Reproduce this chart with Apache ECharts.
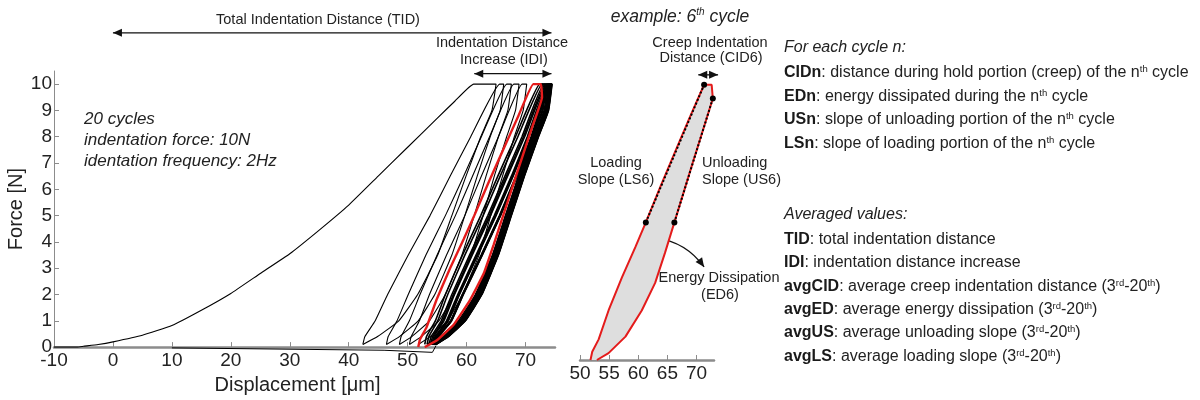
<!DOCTYPE html>
<html><head><meta charset="utf-8">
<script src="https://cdn.jsdelivr.net/npm/echarts@6/dist/echarts.min.js"></script>
<style>html,body{margin:0;padding:0;background:#fff}#c{width:1200px;height:400px}</style>
</head><body><div id="c"></div>
<script>
const F = '"Liberation Sans", Arial, Helvetica, sans-serif';

// ---- tick labels ----
const forceTicks = [0,1,2,3,4,5,6,7,8,9,10];
const dispTicksMain = [-10,0,10,20,30,40,50,60,70];
const dispTicksZoom = [50,55,60,65,70];

// ---- cycle 1: initial loading [displacement, force] ----
const firstLoading = [[-10,0],[-6,0],[-5,0.03],[-2.5,0.1],[0,0.2],[5,0.45],[10,0.82],[15,1.4],[20,2.04],[25,2.8],[30,3.55],[35,4.45],[40,5.4],[45,6.5],[50,7.6],[55,8.7],[58,9.35],[61.2,10]];
// force levels at which the other loading / unloading branches were read
const loadLevels   = [0.1,0.4,1,2,3.5,5,6.5,8,10];
const unloadLevels = [10,9,8,6.5,5,3.5,2,1,0.4,0.1];
const cycle1Unload = [65.0,64.3,62.4,59.9,57.5,55.1,51.7,48.5,44.9,42.4];

// black cycles 2-5 and 7-20: displacement at loadLevels / unloadLevels
const blackCycleNumbers = [2,3,4,5,7,8,9,10,11,12,13,14,15,16,17,18,19,20];
const blackLoadX = [
  [42.4,42.75,44.5,46.6,50.1,53.8,57.2,60.7,65.6],
  [46.4,46.7,48.2,50.1,53.1,56.4,59.5,62.5,66.8],
  [48.6,48.9,50.3,52.1,55.0,58.1,61.0,63.9,68.0],
  [50.3,50.6,52.0,53.7,56.6,59.7,62.5,65.4,69.4],
  [52.9,53.2,54.7,56.4,59.3,62.4,65.3,68.3,72.4],
  [53.3,53.6,55.1,56.8,59.7,62.8,65.7,68.7,72.8],
  [53.6,54.0,55.7,57.5,60.5,63.6,66.5,69.4,73.1],
  [53.85,54.25,55.95,57.75,60.75,63.85,66.75,69.65,73.35],
  [54.05,54.45,56.15,57.95,60.95,64.05,66.95,69.85,73.55],
  [54.2,54.65,56.6,58.5,61.6,64.7,67.6,70.3,73.7],
  [54.32,54.77,56.72,58.62,61.72,64.82,67.72,70.42,73.82],
  [54.42,54.87,56.82,58.72,61.82,64.92,67.82,70.52,73.92],
  [54.5,54.95,56.9,58.8,61.9,65.0,67.9,70.6,74.0],
  [54.57,55.07,57.27,59.27,62.47,65.57,68.37,70.97,74.07],
  [54.63,55.13,57.33,59.33,62.53,65.63,68.43,71.03,74.13],
  [54.68,55.18,57.38,59.38,62.58,65.68,68.48,71.08,74.18],
  [54.72,55.22,57.42,59.42,62.62,65.72,68.52,71.12,74.22],
  [54.76,55.26,57.46,59.46,62.66,65.76,68.56,71.16,74.26]
];
const blackUnloadX = [
  [66.3,65.7,64.0,61.8,59.7,57.5,54.6,51.8,48.6,46.4],
  [67.6,67.0,65.4,63.3,61.3,59.2,56.4,53.7,50.7,48.6],
  [68.9,68.3,66.8,64.7,62.8,60.7,57.9,55.3,52.3,50.3],
  [70.2,69.6,68.1,66.1,64.1,62.1,59.3,56.8,53.8,51.8],
  [73.0,72.5,71.0,68.8,66.6,64.4,61.5,58.6,55.5,53.3],
  [73.3,72.8,71.3,69.1,66.9,64.7,61.8,58.9,55.8,53.6],
  [73.55,72.95,71.25,68.85,66.65,64.45,61.65,58.85,55.95,53.85],
  [73.75,73.15,71.45,69.05,66.85,64.65,61.85,59.05,56.15,54.05],
  [73.9,73.3,71.6,69.2,67.0,64.8,62.0,59.2,56.3,54.2],
  [74.02,73.42,71.72,69.32,67.12,64.92,62.12,59.32,56.42,54.32],
  [74.12,73.52,71.82,69.42,67.22,65.02,62.22,59.42,56.52,54.42],
  [74.2,73.6,71.9,69.5,67.3,65.1,62.3,59.5,56.6,54.5],
  [74.27,73.67,71.97,69.57,67.37,65.17,62.37,59.57,56.67,54.57],
  [74.33,73.73,72.03,69.63,67.43,65.23,62.43,59.63,56.73,54.63],
  [74.38,73.78,72.08,69.68,67.48,65.28,62.48,59.68,56.78,54.68],
  [74.42,73.82,72.12,69.72,67.52,65.32,62.52,59.72,56.82,54.72],
  [74.46,73.86,72.16,69.76,67.56,65.36,62.56,59.76,56.86,54.76],
  [74.5,73.9,72.2,69.8,67.6,65.4,62.6,59.8,56.9,54.8]
];
// 6th cycle (red) full loop
const cycle6 = [[51.8,0],[52.1,0.3],[53.2,0.75],[54.9,1.8],[57.2,3.0],[59.5,4.1],[61.3,5.0],[63.8,6.3],[66.3,7.55],[68.8,8.8],[71.3,10],[72.6,10],[72.8,9.5],[71.1,8.35],[69.4,7.2],[67.8,6.1],[66.2,5.0],[64.6,3.9],[62.9,2.8],[60.6,1.8],[57.8,0.85],[54.9,0.25],[52.9,0]];
const loadingSlope6   = [[61.3,5.0],[71.3,10]];
const unloadingSlope6 = [[72.8,9.5],[66.2,5.0]];
const finalRetract = [[54.8,0.05],[54.2,-0.2],[46,-0.12],[10,-0.03]];

// annotation anchors (data coordinates)
const tidArrow = [[0,11.95],[74.4,11.95]];
const idiArrow = [[61.3,10.4],[74.4,10.4]];
const cidArrow = [[70.3,10.36],[73.7,10.36]];
const edArrow  = [[63.1,4.43],[68.2,4.29],[71.3,3.38]];

function branch(xs, levels){ return xs.map((x,i)=>[x, levels[i]]); }

const series = [];
blackCycleNumbers.forEach((n,i)=>{
  series.push({name:'cycle '+n, type:'line', xAxisIndex:0, yAxisIndex:0, smooth:0.12,
    data: branch(blackLoadX[i], loadLevels).concat(branch(blackUnloadX[i], unloadLevels)),
    symbol:'none', silent:true, lineStyle:{color:'#000', width: n>6 ? 1.6 : 1.1}, z:2});
});
series.push({name:'cycle 1', type:'line', xAxisIndex:0, yAxisIndex:0, smooth:0.12,
  data: firstLoading.concat(branch(cycle1Unload, unloadLevels)),
  symbol:'none', silent:true, lineStyle:{color:'#000', width:1.1}, z:2});
series.push({name:'retract', type:'line', xAxisIndex:0, yAxisIndex:0, data: finalRetract, clip:false,
  symbol:'none', silent:true, lineStyle:{color:'#000', width:1}, z:2});
series.push({name:'cycle 6', type:'line', xAxisIndex:0, yAxisIndex:0, data: cycle6, smooth:0.1,
  symbol:'none', silent:true, lineStyle:{color:'#e41b1b', width:2.4}, z:5});
// right panel
series.push({name:'ED6 area', type:'custom', xAxisIndex:1, yAxisIndex:1, data:[cycle6[0]], clip:false, silent:true, z:1,
  renderItem:(params, api)=>({type:'polygon', shape:{points: cycle6.map(p=>api.coord(p))}, style:{fill:'#dedede', stroke:null}})});
series.push({name:'cycle 6 zoom', type:'line', xAxisIndex:1, yAxisIndex:1, data: cycle6,
  symbol:'none', silent:true, lineStyle:{color:'#e41b1b', width:2}, z:5});
[loadingSlope6, unloadingSlope6].forEach(d=>{
  series.push({type:'line', xAxisIndex:1, yAxisIndex:1, data:d, symbol:'circle', symbolSize:6, showSymbol:true,
    itemStyle:{color:'#000'}, silent:true, lineStyle:{color:'#000', width:2, type:[2,2]}, z:6});
});

const axLine = {show:true, onZero:false, lineStyle:{color:'#8c8c8c', width:2.5}};
const tickStyle = {color:'#8c8c8c', width:1};
const labelStyle = {fontFamily:F, fontSize:19, color:'#222'};

const option = {
  animation:false,
  grid:[{left:54, top:71, width:501, height:289}, {left:580, top:71, width:134, height:289}],
  xAxis:[
    {type:'value', gridIndex:0, min:-10, max:75, interval:10,
     name:'Displacement [μm]', nameLocation:'middle', nameGap:21,
     nameTextStyle:{fontFamily:F, fontSize:20, color:'#222', padding:[0,14,0,0]},
     axisLine:axLine, axisTick:{show:true, inside:true, length:5, customValues:dispTicksMain, lineStyle:tickStyle},
     axisLabel:Object.assign({customValues:dispTicksMain, margin:4}, labelStyle), splitLine:{show:false}},
    {type:'value', gridIndex:1, min:50, max:73, interval:5,
     axisLine:axLine, axisTick:{show:true, inside:true, length:5, customValues:dispTicksZoom, lineStyle:tickStyle},
     axisLabel:Object.assign({customValues:dispTicksZoom, margin:4}, labelStyle), splitLine:{show:false}}
  ],
  yAxis:[
    {type:'value', gridIndex:0, min:0, max:10.5, interval:1,
     name:'Force [N]', nameLocation:'middle', nameGap:25,
     nameTextStyle:{fontFamily:F, fontSize:20, color:'#222'},
     axisLine:{show:true, onZero:false, lineStyle:{color:'#8c8c8c', width:1}},
     axisTick:{show:true, inside:true, length:5, customValues:forceTicks, lineStyle:tickStyle},
     axisLabel:Object.assign({customValues:forceTicks, margin:2}, labelStyle), splitLine:{show:false}},
    {type:'value', gridIndex:1, min:0, max:10.5, show:false, splitLine:{show:false}}
  ],
  series
};

const chart = echarts.init(document.getElementById('c'), null, {renderer:'canvas'});
chart.setOption(option);

const P0 = p => chart.convertToPixel({gridIndex:0}, p);
const P1 = p => chart.convertToPixel({gridIndex:1}, p);

function head(tip, from, len, half){
  const dx = tip[0]-from[0], dy = tip[1]-from[1];
  const d = Math.hypot(dx,dy), ux = dx/d, uy = dy/d;
  const bx = tip[0]-ux*len, by = tip[1]-uy*len;
  return {type:'polygon', silent:true, shape:{points:[tip,[bx-uy*half,by+ux*half],[bx+uy*half,by-ux*half]]}, style:{fill:'#111'}};
}
function dbl(a,b){
  return [{type:'line', silent:true, shape:{x1:a[0],y1:a[1],x2:b[0],y2:b[1]}, style:{stroke:'#111', lineWidth:1.3}},
          head(a,b,9,4), head(b,a,9,4)];
}
function txt(x,y,text,o){
  return {type:'text', x, y, silent:true,
    style:Object.assign({text, fontFamily:F, fontSize:14.5, fill:'#222', align:'center', verticalAlign:'middle'}, o||{})};
}
const sup = {fontFamily:F, fontSize:9.5, fill:'#222', verticalAlign:'top', lineHeight:18};
function rich(x,y,text,italic){
  return txt(x,y,text,{align:'left', fontSize:16, fontStyle: italic?'italic':'normal', lineHeight:18,
    rich:{
      b:{fontFamily:F, fontSize:16, fontWeight:'bold', fill:'#1a1a1a', lineHeight:18},
      s:Object.assign({}, sup, italic?{fontStyle:'italic'}:{})
    }});
}

const g = [];
const t0 = P0(tidArrow[0]), t1 = P0(tidArrow[1]);
g.push(...dbl(t0,t1));
const i0 = P0(idiArrow[0]), i1 = P0(idiArrow[1]);
g.push(...dbl(i0,i1));
const c0 = P1(cidArrow[0]), c1 = P1(cidArrow[1]);
g.push(...dbl(c0,c1));
const e0 = P1(edArrow[0]), ec = P1(edArrow[1]), e1 = P1(edArrow[2]);
g.push({type:'bezierCurve', silent:true, shape:{x1:e0[0],y1:e0[1],x2:e1[0],y2:e1[1],cpx1:ec[0],cpy1:ec[1]}, style:{stroke:'#111', lineWidth:1.3, fill:null}});
g.push(head(e1, ec, 9, 4));

g.push(txt(318,20,'Total Indentation Distance (TID)'));
g.push(txt(502,43,'Indentation Distance'));
g.push(txt(504,60,'Increase (IDI)'));
g.push(txt(84,119,'20 cycles',{align:'left', fontStyle:'italic', fontSize:17}));
g.push(txt(84,140,'indentation force: 10N',{align:'left', fontStyle:'italic', fontSize:17}));
g.push(txt(84,161,'identation frequency: 2Hz',{align:'left', fontStyle:'italic', fontSize:17}));

g.push(txt(680,17,'example: 6{s|th} cycle',{fontStyle:'italic', fontSize:17.5, lineHeight:20,
  rich:{s:{fontFamily:F, fontSize:10, fontStyle:'italic', fill:'#222', verticalAlign:'top', lineHeight:20}}}));
g.push(txt(710,43,'Creep Indentation'));
g.push(txt(711,58,'Distance (CID6)'));
g.push(txt(616,163,'Loading'));
g.push(txt(616,180,'Slope (LS6)'));
g.push(txt(702,163,'Unloading',{align:'left'}));
g.push(txt(702,180,'Slope (US6)',{align:'left'}));
g.push(txt(719,278,'Energy Dissipation'));
g.push(txt(720,295,'(ED6)'));

const X = 784;
g.push(rich(X,48,'For each cycle n:',true));
g.push(rich(X,73,'{b|CIDn}: distance during hold portion (creep) of the n{s|th} cycle'));
g.push(rich(X,97,'{b|EDn}: energy dissipated during the n{s|th} cycle'));
g.push(rich(X,120,'{b|USn}: slope of unloading portion of the n{s|th} cycle'));
g.push(rich(X,144,'{b|LSn}: slope of loading portion of the n{s|th} cycle'));
g.push(rich(X,215,'Averaged values:',true));
g.push(rich(X,240,'{b|TID}: total indentation distance'));
g.push(rich(X,263,'{b|IDI}: indentation distance increase'));
g.push(rich(X,287,'{b|avgCID}: average creep indentation distance (3{s|rd}-20{s|th})'));
g.push(rich(X,310,'{b|avgED}: average energy dissipation (3{s|rd}-20{s|th})'));
g.push(rich(X,333,'{b|avgUS}: average unloading slope (3{s|rd}-20{s|th})'));
g.push(rich(X,357,'{b|avgLS}: average loading slope (3{s|rd}-20{s|th})'));

chart.setOption({graphic: g});
</script>
</body></html>
